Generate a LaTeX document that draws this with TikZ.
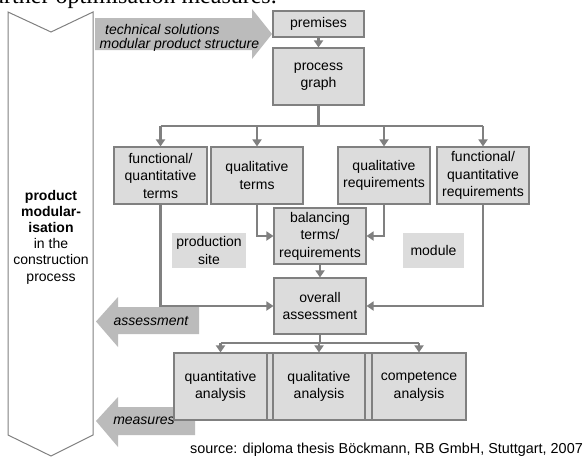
\documentclass[tikz,border=0pt]{standalone}
\usepackage{fontspec}
\setmainfont{Liberation Sans}
\newfontfamily\serifface{Liberation Serif}
\usetikzlibrary{arrows.meta}
\definecolor{boxfill}{HTML}{DCDCDC}
\definecolor{boxline}{HTML}{808080}
\definecolor{bigarrow}{HTML}{BBBBBB}
\tikzset{
  box/.style={draw=boxline, fill=boxfill, line width=1.1pt, align=center, inner sep=1pt,
    font=\fontsize{14}{17.5}\selectfont},
  tag/.style={fill=boxfill, align=center, inner sep=1pt, font=\fontsize{14}{17.5}\selectfont},
  conn/.style={draw=boxline, line width=2.4pt, -{Triangle[width=9pt,length=7pt]}},
  bus/.style={draw=boxline, line width=2.4pt},
  bigarr/.style={fill=bigarrow, draw=none},
  arrtext/.style={font=\fontsize{14}{16}\selectfont\itshape, inner sep=0pt},
}
\begin{document}
\begin{tikzpicture}[x=1pt,y=-1pt]
\useasboundingbox (0,0) rectangle (585,456);
\clip (0,0) rectangle (585,456);
% clipped heading of the page above
\node[anchor=base west, inner sep=0pt, font=\serifface\fontsize{24}{24}\selectfont] (head) at (-16,3.5) {further optimisation measures.};
% left chevron
\draw[draw=boxline, fill=white, line width=1pt] (8,12) -- (51,32) -- (93,12) -- (93,435) -- (51,456) -- (8,435) -- cycle;
\node[align=center, inner sep=0pt, font=\fontsize{14}{16.2}\selectfont] (side) at (51,237)
  {\textbf{product}\\\textbf{modular-}\\\textbf{isation}\\in the\\construction\\process};
% big arrows
\path[bigarr] (95,18) -- (252,18) -- (252,9) -- (272,34) -- (252,59) -- (252,50) -- (95,50) -- cycle;
\node[arrtext, anchor=base west] (t1) at (105,34.5) {technical solutions};
\node[arrtext, anchor=base west] (t2) at (99.5,48) {modular product structure};
\path[bigarr] (199,307) -- (118,307) -- (118,297) -- (96,321.5) -- (118,347) -- (118,334) -- (199,334) -- cycle;
\node[arrtext] (ass) at (151,321) {assessment};
\path[bigarr] (195,407) -- (118,407) -- (118,397) -- (96,421) -- (118,447) -- (118,435) -- (195,435) -- cycle;
\node[arrtext] (mea) at (144,421) {measures};
% boxes
\node[box, minimum width=91pt, minimum height=26pt] (prem) at (318.5,24) {premises};
\node[box, minimum width=91pt, minimum height=57pt] (proc) at (318.5,76.5) {process\\graph};
\node[box, minimum width=93pt, minimum height=57pt] (fqt) at (160.5,175.5) {functional/\\quantitative\\terms};
\node[box, minimum width=92pt, minimum height=57pt] (qt) at (257,175.5) {qualitative\\terms};
\node[box, minimum width=92pt, minimum height=57pt] (qr) at (384,175.5) {qualitative\\requirements};
\node[box, minimum width=92pt, minimum height=57pt] (fqr) at (483,175.5) {functional/\\quantitative\\requirements};
\node[box, minimum width=92pt, minimum height=56pt] (bal) at (320,236) {balancing\\terms/\\requirements};
\node[box, minimum width=92pt, minimum height=56pt] (ovr) at (320,306) {overall\\assessment};
\node[tag, minimum width=74pt, minimum height=35pt] (site) at (209,250.5) {production\\site};
\node[tag, minimum width=61pt, minimum height=35pt] (mod) at (433.5,250.5) {module};
% analysis row
\node[box, minimum width=292pt, minimum height=67pt] (row) at (320,386.5) {};
\node[box, minimum width=93pt, minimum height=67pt] (quan) at (220.5,386.5) {quantitative\\analysis};
\node[box, minimum width=92pt, minimum height=67pt] (qual) at (319,386.5) {qualitative\\analysis};
\node[box, minimum width=94pt, minimum height=67pt] (comp) at (419,386.5) {competence\\analysis};
% source
\node[anchor=base east, inner sep=0pt, font=\fontsize{14.4}{16}\selectfont] (src) at (583,453) {source: diploma thesis Böckmann, RB GmbH, Stuttgart, 2007};
% connectors
\coordinate (b1) at (318.5,126);
\coordinate (b2) at (320,343);
\draw[conn] (prem) -- (proc);
\draw[bus] (proc.south) -- (b1);
\draw[bus] (fqt.north |- b1) -- (fqr.north |- b1);
\draw[conn] (fqt.north |- b1) -- (fqt.north);
\draw[conn] (qt.north |- b1) -- (qt.north);
\draw[conn] (qr.north |- b1) -- (qr.north);
\draw[conn] (fqr.north |- b1) -- (fqr.north);
\draw[conn] (qt.south) |- (bal.west);
\draw[conn] (qr.south) |- (bal.east);
\draw[conn] (bal) -- (ovr);
\draw[conn] (fqt.south) |- (ovr.west);
\draw[conn] (fqr.south) |- (ovr.east);
\draw[bus] (ovr.south) -- (b2);
\draw[bus] (quan.north |- b2) -- (comp.north |- b2);
\draw[conn] (quan.north |- b2) -- (quan.north);
\draw[conn] (qual.north |- b2) -- (qual.north);
\draw[conn] (comp.north |- b2) -- (comp.north);
\end{tikzpicture}
\end{document}
